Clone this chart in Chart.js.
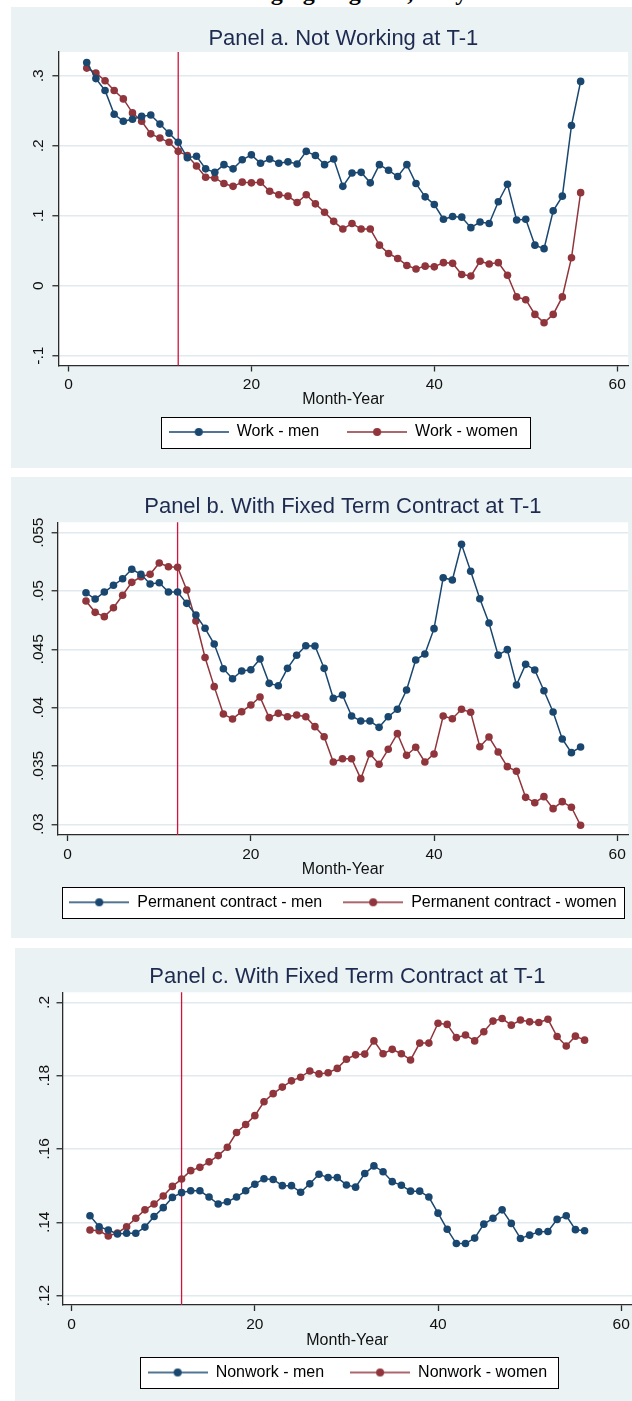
<!DOCTYPE html>
<html><head><meta charset="utf-8">
<script src="https://cdn.jsdelivr.net/npm/chart.js@4.4.1/dist/chart.umd.min.js"></script>
<style>
html,body{margin:0;padding:0;background:#fff;width:632px;height:1401px;overflow:hidden;position:relative;}
canvas.panel{position:absolute;}
#topText{position:absolute;left:21px;width:640px;top:-21px;text-align:center;font:bold 24px "Liberation Serif","DejaVu Serif",serif;color:#000;white-space:nowrap;}
</style></head><body>
<div id="topText">Changing Regimes, Italy</div>
<canvas id="cA" class="panel" width="621" height="461" style="left:11px;top:7px"></canvas>
<canvas id="cB" class="panel" width="621" height="461" style="left:11px;top:477px"></canvas>
<canvas id="cC" class="panel" width="621" height="453" style="left:15px;top:948px"></canvas>
<script>
// ---------- data ----------
const months = [2,3,4,5,6,7,8,9,10,11,12,13,14,15,16,17,18,19,20,21,22,23,24,25,26,27,28,29,30,31,32,33,34,35,36,37,38,39,40,41,42,43,44,45,46,47,48,49,50,51,52,53,54,55,56];
const eventMonth = 12;

const workMen = [.319,.296,.279,.245,.235,.238,.242,.244,.231,.218,.205,.183,.185,.167,.162,.173,.167,.180,.187,.175,.181,.175,.177,.174,.192,.186,.173,.181,.142,.161,.162,.147,.173,.165,.156,.173,.146,.127,.116,.095,.099,.098,.083,.091,.089,.120,.145,.094,.095,.058,.053,.107,.128,.229,.292];
const workWomen = [.311,.304,.293,.279,.267,.247,.235,.217,.211,.205,.192,.186,.171,.155,.154,.146,.142,.148,.147,.148,.135,.130,.128,.119,.130,.117,.105,.092,.081,.089,.081,.081,.058,.046,.039,.029,.024,.028,.027,.033,.032,.016,.014,.035,.031,.033,.015,-.016,-.020,-.041,-.053,-.041,-.016,.040,.133];

const permMen = [.04985,.04931,.04991,.05049,.05105,.05186,.05143,.05060,.05071,.04991,.04991,.04894,.04794,.04680,.04545,.04334,.04248,.04314,.04325,.04417,.04208,.04188,.04337,.04449,.04531,.04528,.04337,.04080,.04108,.03928,.03885,.03885,.03831,.03922,.03986,.04151,.04408,.04460,.04677,.05114,.05094,.05400,.05169,.04934,.04725,.04450,.04497,.04194,.04371,.04323,.04145,.03963,.03731,.03614,.03663];
const permWomen = [.04914,.04817,.04780,.04857,.04963,.05074,.05122,.05143,.05240,.05208,.05203,.05008,.04743,.04430,.04180,.03945,.03903,.03965,.04022,.04091,.03914,.03951,.03922,.03937,.03922,.03837,.03751,.03534,.03562,.03562,.03391,.03605,.03514,.03643,.03777,.03591,.03660,.03534,.03603,.03928,.03905,.03986,.03960,.03665,.03748,.03620,.03494,.03454,.03231,.03185,.03237,.03134,.03194,.03146,.02991];

const nonworkMen = [.1418,.1388,.1379,.1368,.1370,.1370,.1387,.1416,.1440,.1468,.1481,.1486,.1486,.1469,.1450,.1456,.1469,.1486,.1504,.1519,.1517,.1500,.1500,.1482,.1505,.1531,.1522,.1522,.1502,.1496,.1533,.1554,.1538,.1511,.1501,.1485,.1485,.1469,.1425,.1381,.1342,.1342,.1357,.1395,.1411,.1434,.1397,.1356,.1365,.1374,.1375,.1408,.1418,.1380,.1377];
const nonworkWomen = [.1379,.1377,.1363,.1371,.1388,.1411,.1434,.1450,.1472,.1498,.1518,.1541,.1550,.1565,.1582,.1605,.1645,.1667,.1691,.1729,.1751,.1769,.1786,.1796,.1813,.1805,.1808,.1820,.1845,.1857,.1859,.1895,.1860,.1872,.1860,.1843,.1889,.1889,.1943,.1940,.1904,.1911,.1895,.1920,.1949,.1956,.1938,.1952,.1947,.1945,.1954,.1907,.1881,.1908,.1897];

const xTickVals = [0,20,40,60];
const xTickLabels = ['0','20','40','60'];
const yTickValsA = [-0.1,0,0.1,0.2,0.3];
const yTickLabelsA = ['-.1','0','.1','.2','.3'];
const yTickValsB = [0.03,0.035,0.04,0.045,0.05,0.055];
const yTickLabelsB = ['.03','.035','.04','.045','.05','.055'];
const yTickValsC = [0.12,0.14,0.16,0.18,0.2];
const yTickLabelsC = ['.12','.14','.16','.18','.2'];

// ---------- style ----------
const BLUE = '#1A476F', RED = '#90353B', VLINE = '#D0133C';
const BG = '#EAF2F3', GRID = '#E1EAEE', AXIS = '#2b2b2b', TITLE = '#1E2B50';
const FONT = '"Liberation Sans", Arial, sans-serif';

function legendImg(col){
  const cv = document.createElement('canvas'); cv.width = 60; cv.height = 10;
  const g = cv.getContext('2d');
  g.strokeStyle = col; g.lineWidth = 1.5;
  g.beginPath(); g.moveTo(0,5); g.lineTo(60,5); g.stroke();
  g.fillStyle = col; g.beginPath(); g.arc(30,5,4,0,Math.PI*2); g.fill();
  return cv;
}
const legendImgs = [legendImg(BLUE), legendImg(RED)];

// keep the legend on one row (Stata-like), centred under the plot region
const legendOneRow = {
  id:'legendOneRow',
  beforeLayout(ch){
    const lg = ch.legend;
    if (lg && !lg._oneRow){
      const origFit = lg.fit.bind(lg);
      lg.fit = function(){
        const mw = this.maxWidth;
        this.maxWidth = mw + 200;
        origFit();
        this.maxWidth = mw;
        this.width = mw;
      };
      const origDraw = lg.draw.bind(lg);
      lg.draw = function(){
        this.left -= 80; this.right += 80;
        origDraw();
        this.left += 80; this.right -= 80;
      };
      lg._oneRow = true;
    }
  }
};

const bgPlugin = {
  id:'bgPanel',
  beforeDraw(ch, args, opts){
    const c = ch.ctx, a = ch.chartArea;
    c.save();
    c.fillStyle = BG; c.fillRect(0,0,ch.width,ch.height);
    c.fillStyle = '#fff'; c.fillRect(a.left,a.top,a.right-a.left,a.bottom-a.top);
    const hb = ch.legend && ch.legend.legendHitBoxes;
    if (hb && hb.length){
      const f = hb[0], l = hb[hb.length-1];
      const cy = f.top + f.height/2;
      const x0 = Math.round(f.left - 7.5), x1 = Math.round(l.left + l.width + (opts.padR || 12));
      const y0 = Math.round(cy - 15.3);
      c.fillRect(x0, y0, x1-x0, 31);
      c.strokeStyle = '#000'; c.lineWidth = 1;
      c.strokeRect(x0+0.5, y0+0.5, x1-x0, 31);
    }
    c.restore();
  }
};
const eventPlugin = {
  id:'eventLine',
  beforeDatasetsDraw(ch){
    const x = ch.scales.x.getPixelForValue(eventMonth);
    const {top,bottom} = ch.chartArea, c = ch.ctx;
    c.save(); c.strokeStyle = VLINE; c.lineWidth = 1.3;
    c.beginPath(); c.moveTo(x,top); c.lineTo(x,bottom); c.stroke(); c.restore();
  }
};

function series(label, vals, col){
  return {label, data: months.map((m,i)=>({x:m, y:vals[i]})), borderColor:col, backgroundColor:col,
    borderWidth:1.5, pointRadius:3.8, pointHoverRadius:3.8, pointBorderWidth:0, tension:0, fill:false};
}

function panel(id, p){
  const cv = document.getElementById(id);
  const W = cv.width, Hc = cv.height;
  const B = p.B, lp = p.lp;
  const H = p.legendY - B - lp - 8;          // x-axis box height
  const pbt = B + H - 9.6 - p.axisTitleY;    // axis-title bottom padding
  const padB = Hc - (B + H + 26 + lp);       // bottom layout padding
  new Chart(cv, {
    type:'line',
    data:{datasets:[series(p.labels[0], p.men, BLUE), series(p.labels[1], p.women, RED)]},
    options:{
      responsive:false, animation:false, devicePixelRatio:1,
      layout:{padding:{left:p.L-40, right:W-p.R, top:0, bottom:padB}},
      plugins:{
        bgPanel:{padR:p.boxPadR},
        title:{display:true, text:p.title, color:TITLE, fullSize:false,
          font:{family:FONT, size:22, weight:'normal'}, padding:{top:p.tA, bottom:p.tB}},
        legend:{position:'bottom', fullSize:false,
          labels:{usePointStyle:true, pointStyleWidth:60, padding:lp, color:'#000',
            font:{family:FONT, size:16},
            generateLabels: ch => Chart.defaults.plugins.legend.labels.generateLabels(ch).map(it => { it.pointStyle = legendImgs[it.datasetIndex]; return it; })}},
        tooltip:{enabled:false}
      },
      scales:{
        x:{type:'linear', min:p.xmin, max:p.xmax,
          afterFit: s => { s.height = H; },
          afterBuildTicks: s => { s.ticks = xTickVals.map(v => ({value:v})); },
          ticks:{autoSkip:false, minRotation:0, maxRotation:0, padding:4.2, color:'#111',
            font:{family:FONT, size:15.5}, callback: v => xTickLabels[xTickVals.indexOf(v)]},
          grid:{drawOnChartArea:false, drawTicks:true, tickLength:6, tickColor:AXIS, tickWidth:1.3},
          border:{color:AXIS, width:1.3},
          title:{display:true, text:'Month-Year', color:'#111', font:{family:FONT, size:16}, padding:{top:0, bottom:pbt}}
        },
        y:{type:'linear', min:p.ymin, max:p.ymax,
          afterFit: s => { s.width = 40; },
          afterBuildTicks: s => { s.ticks = p.yVals.map(v => ({value:v})); },
          ticks:{autoSkip:false, minRotation:90, maxRotation:90, crossAlign:'center', padding:p.yPad, color:'#111',
            font:{family:FONT, size:15.5}, callback: v => p.yLabels[p.yVals.indexOf(v)]},
          grid:{color:GRID, lineWidth:1.5, drawTicks:true, tickLength:6, tickColor:AXIS, tickWidth:1.3},
          border:{color:AXIS, width:1.3}
        }
      }
    },
    plugins:[legendOneRow, bgPlugin, eventPlugin]
  });
}

panel('cA', {title:'Panel a. Not Working at T-1', labels:['Work - men','Work - women'],
  men:workMen, women:workWomen, xmin:-1.1, xmax:61.2, ymin:-0.114, ymax:0.334,
  yVals:yTickValsA, yLabels:yTickLabelsA, yPad:4.85, boxPadR:12,
  L:47.4, R:618, tA:18.3, tB:0.3, B:358.5, lp:28, legendY:425, axisTitleY:392.5});
panel('cB', {title:'Panel b. With Fixed Term Contract at T-1', labels:['Permanent contract - men','Permanent contract - women'],
  men:permMen, women:permWomen, xmin:-1.1, xmax:61.2, ymin:0.02908, ymax:0.05589,
  yVals:yTickValsB, yLabels:yTickLabelsB, yPad:-1.8, boxPadR:7,
  L:46.6, R:618, tA:17, tB:1.9, B:358, lp:21, legendY:425.3, axisTitleY:393});
panel('cC', {title:'Panel c. With Fixed Term Contract at T-1', labels:['Nonwork - men','Nonwork - women'],
  men:nonworkMen, women:nonworkWomen, xmin:-1.0, xmax:61.2, ymin:0.11744, ymax:0.20276,
  yVals:yTickValsC, yLabels:yTickLabelsC, yPad:1.5, boxPadR:11,
  L:47.5, R:619, tA:16, tB:1.9, B:357, lp:26, legendY:424.5, axisTitleY:392.3});
</script>
</body></html>
